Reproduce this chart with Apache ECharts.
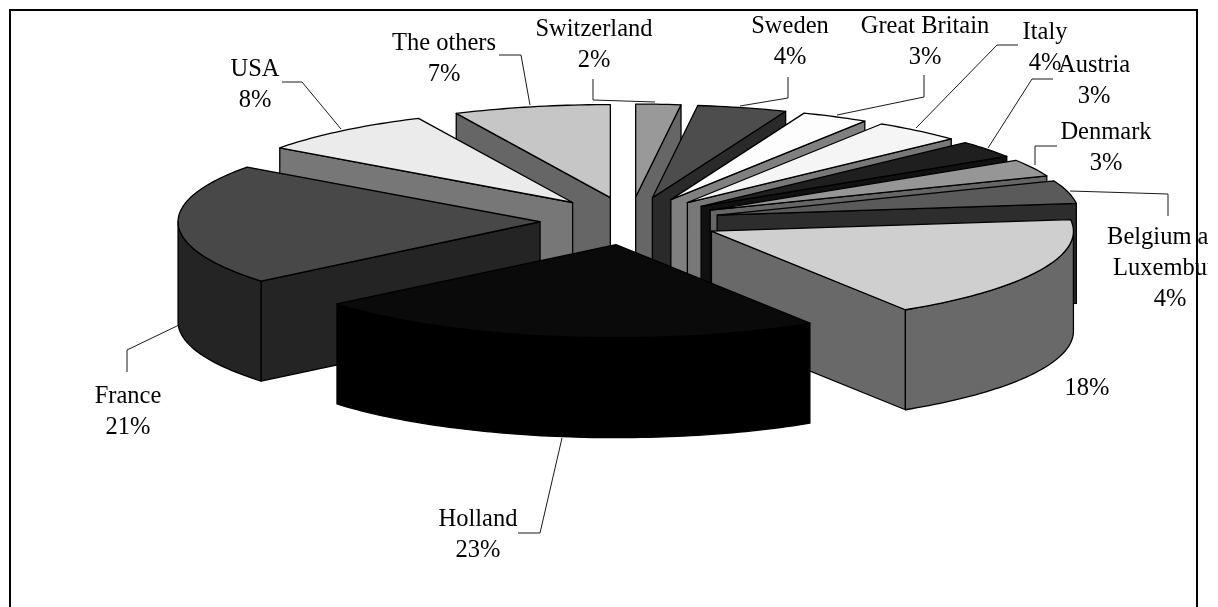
<!DOCTYPE html>
<html>
<head>
<meta charset="utf-8">
<title>Export shares by country</title>
<script src="https://cdn.jsdelivr.net/npm/echarts@6/dist/echarts.min.js"></script>
<style>
  html, body { margin: 0; padding: 0; background: #fff; }
  #chart { width: 1208px; height: 607px; overflow: hidden; }
</style>
</head>
<body>
<div id="chart"></div>
<script>
// Slice values in percent, clockwise from twelve o'clock.
var countries = ['Switzerland', 'Sweden', 'Great Britain', 'Italy', 'Austria', 'Denmark',
                 'Belgium and\nLuxemburg', '', 'Holland', 'France', 'USA', 'The others'];
var shares = [2, 4, 3, 4, 3, 3, 4, 18, 23, 21, 8, 7];

// Greys of the upper faces and of the side walls.
var faceColors = ['#999999', '#4d4d4d', '#fdfdfd', '#f5f5f5', '#1f1f1f', '#969696',
                  '#5a5a5a', '#cfcfcf', '#0a0a0a', '#484848', '#ebebeb', '#c6c6c6'];
var wallColors = ['#666666', '#2a2a2a', '#808080', '#787878', '#111111', '#666666',
                  '#2d2d2d', '#696969', '#000000', '#242424', '#777777', '#666666'];

// Centre of the label block of each slice, in canvas pixels.
var labelCentres = [[594, 45], [790, 42], [925, 42], [1045, 48], [1094, 81], [1106, 148],
                    [1170, 269], [1087, 389], [478, 535], [128, 412], [255, 85], [444, 59]];

// Leader lines, running from the label to the slice rim.
var leaderPaths = [
  [[593, 79], [593, 100], [655, 102]],
  [[788, 77], [788, 98], [740, 106]],
  [[924, 75], [924, 97], [837, 115]],
  [[1018, 45], [997, 45], [916, 128]],
  [[1053, 79], [1032, 79], [988, 148]],
  [[1057, 146], [1035, 146], [1035, 165]],
  [[1168, 216], [1168, 194], [1070, 191]],
  null,
  [[518, 533], [540, 533], [562, 438]],
  [[127, 372], [127, 350], [179, 325]],
  [[282, 82], [302, 82], [341, 129]],
  [[499, 55], [521, 55], [530, 105]]
];

// Projection of the tilted pie onto the canvas.
var pie = { cx: 630, cy: 221, rx: 362, ry: 93, depth: 100, explodeX: 90, explodeY: 24 };
var total = shares.reduce(function (a, b) { return a + b; }, 0);
var toAngle = function (share) {
  return echarts.number.linearMap(share, [0, total], [0, Math.PI * 2]);
};

var bounds = [];
shares.reduce(function (sum, s) {
  bounds.push([sum, sum + s]);
  return sum + s;
}, 0);

// Back slices are painted first so nearer ones can cover them.
var paintRank = shares.map(function (_, i) { return i; }).sort(function (a, b) {
  var ma = toAngle((bounds[a][0] + bounds[a][1]) / 2);
  var mb = toAngle((bounds[b][0] + bounds[b][1]) / 2);
  return Math.cos(mb) - Math.cos(ma);
});

function arcPoints(apex, from, to, dy) {
  var pts = [];
  var steps = Math.max(2, Math.ceil((to - from) / 0.02));
  for (var k = 0; k <= steps; k++) {
    var t = from + (to - from) * k / steps;
    pts.push([apex[0] + pie.rx * Math.sin(t), apex[1] - pie.ry * Math.cos(t) + dy]);
  }
  return pts;
}

function renderSlice(params, api) {
  var i = params.dataIndex;
  var start = toAngle(api.value(1));
  var end = toAngle(api.value(2));
  var mid = (start + end) / 2;
  var apex = [pie.cx + pie.explodeX * Math.sin(mid), pie.cy - pie.explodeY * Math.cos(mid)];
  var d = pie.depth;
  var base = paintRank.indexOf(i) * 10 + 1;
  var edge = { stroke: '#000', lineWidth: 1.3, lineJoin: 'round' };
  var children = [];

  function addPolygon(points, fill, order) {
    children.push({
      type: 'polygon', z2: base + order,
      shape: { points: points },
      style: { fill: fill, stroke: edge.stroke, lineWidth: edge.lineWidth, lineJoin: edge.lineJoin }
    });
  }
  function radialWall(angle) {
    var rim = arcPoints(apex, angle, angle, 0)[0];
    addPolygon([apex, rim, [rim[0], rim[1] + d], [apex[0], apex[1] + d]], wallColors[i], 0);
  }

  if (Math.sin(start) < -1e-6) { radialWall(start); }
  if (Math.sin(end) > 1e-6) { radialWall(end); }

  // The curved rim is only seen on the near half of the pie.
  var from = Math.max(start, Math.PI / 2);
  var to = Math.min(end, Math.PI * 1.5);
  if (to > from) {
    var upper = arcPoints(apex, from, to, 0);
    var lower = arcPoints(apex, from, to, d).reverse();
    addPolygon(upper.concat(lower), wallColors[i], 1);
  }

  addPolygon([apex].concat(arcPoints(apex, start, end, 0)), faceColors[i], 2);
  return { type: 'group', children: children };
}

function renderLabel(params, api) {
  var i = params.dataIndex;
  var name = countries[i];
  var text = (name ? name + '\n' : '') + api.value(0) + '%';
  var c = labelCentres[i];
  var children = [{
    type: 'text', z2: 2,
    style: {
      text: text, x: c[0], y: c[1], fill: '#000',
      fontFamily: '"Liberation Serif"', fontSize: 24.5, lineHeight: 31,
      align: 'center', verticalAlign: 'middle'
    }
  }];
  if (leaderPaths[i]) {
    children.push({
      type: 'polyline', z2: 1,
      shape: { points: leaderPaths[i] },
      style: { fill: null, stroke: '#1a1a1a', lineWidth: 1 }
    });
  }
  return { type: 'group', children: children };
}

var chart = echarts.init(document.getElementById('chart'), null, { renderer: 'canvas' });
chart.setOption({
  animation: false,
  backgroundColor: '#fff',
  series: [
    {
      type: 'custom', coordinateSystem: 'none', silent: true, z: 2,
      renderItem: renderSlice,
      data: shares.map(function (s, i) { return [s, bounds[i][0], bounds[i][1]]; })
    },
    {
      type: 'custom', coordinateSystem: 'none', silent: true, z: 3,
      renderItem: renderLabel,
      data: shares.map(function (s) { return [s]; })
    }
  ],
  graphic: [{
    type: 'polyline', z: 10, silent: true,
    shape: { points: [[10, 620], [10, 10], [1197, 10], [1197, 620]] },
    style: { fill: null, stroke: '#000', lineWidth: 2 }
  }]
});
</script>
</body>
</html>
